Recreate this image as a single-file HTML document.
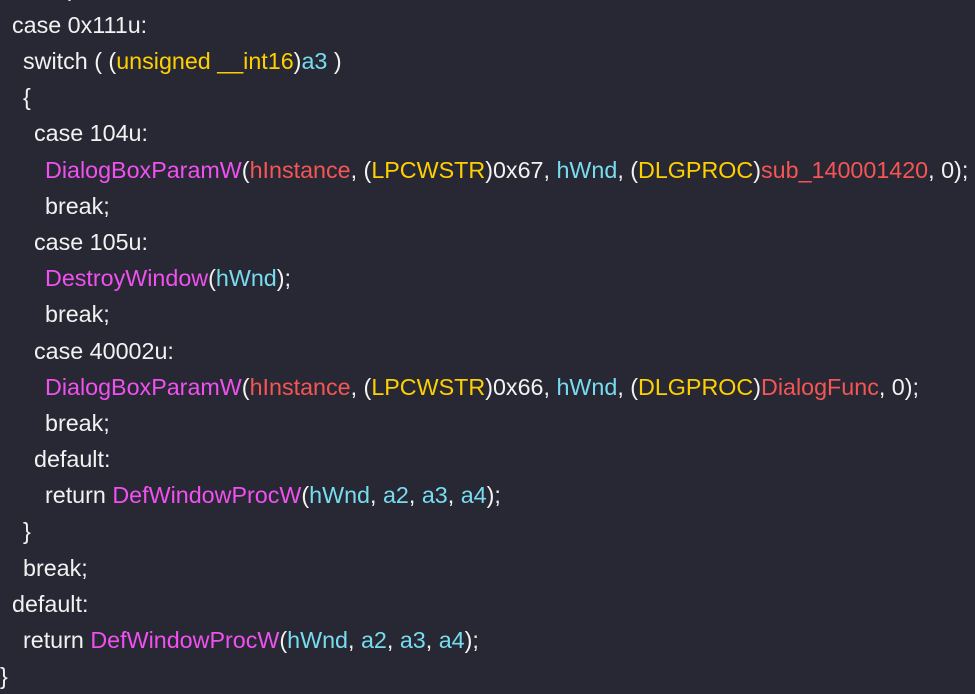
<!DOCTYPE html>
<html><head><style>
body{margin:0;width:975px;height:684px;background:#272833;overflow:hidden;position:relative;font-family:"Liberation Sans",sans-serif;font-size:23.3px;color:#f2f2f2}
.l{position:absolute;white-space:pre;line-height:36px;height:36px}
.y{color:#ffd000}.c{color:#78dcf0}.m{color:#f050f0}.r{color:#f55555}
</style></head><body>
<div class="l" style="left:68px;top:-30px">);</div>
<div class="l" style="left:12px;top:7px">case 0x111u:</div>
<div class="l" style="left:23px;top:43px">switch ( (<span class="y">unsigned __int16</span>)<span class="c">a3</span> )</div>
<div class="l" style="left:23px;top:79px">{</div>
<div class="l" style="left:34px;top:115px">case 104u:</div>
<div class="l" style="left:45px;top:152px"><span class="m">DialogBoxParamW</span>(<span class="r">hInstance</span>, (<span class="y">LPCWSTR</span>)0x67, <span class="c">hWnd</span>, (<span class="y">DLGPROC</span>)<span class="r">sub_140001420</span>, 0);</div>
<div class="l" style="left:45px;top:188px">break;</div>
<div class="l" style="left:34px;top:224px">case 105u:</div>
<div class="l" style="left:45px;top:260px"><span class="m">DestroyWindow</span>(<span class="c">hWnd</span>);</div>
<div class="l" style="left:45px;top:296px">break;</div>
<div class="l" style="left:34px;top:333px">case 40002u:</div>
<div class="l" style="left:45px;top:369px"><span class="m">DialogBoxParamW</span>(<span class="r">hInstance</span>, (<span class="y">LPCWSTR</span>)0x66, <span class="c">hWnd</span>, (<span class="y">DLGPROC</span>)<span class="r">DialogFunc</span>, 0);</div>
<div class="l" style="left:45px;top:405px">break;</div>
<div class="l" style="left:34px;top:441px">default:</div>
<div class="l" style="left:45px;top:477px">return <span class="m">DefWindowProcW</span>(<span class="c">hWnd</span>, <span class="c">a2</span>, <span class="c">a3</span>, <span class="c">a4</span>);</div>
<div class="l" style="left:23px;top:513px">}</div>
<div class="l" style="left:23px;top:550px">break;</div>
<div class="l" style="left:12px;top:586px">default:</div>
<div class="l" style="left:23px;top:622px">return <span class="m">DefWindowProcW</span>(<span class="c">hWnd</span>, <span class="c">a2</span>, <span class="c">a3</span>, <span class="c">a4</span>);</div>
<div class="l" style="left:0px;top:658px">}</div>
</body></html>
